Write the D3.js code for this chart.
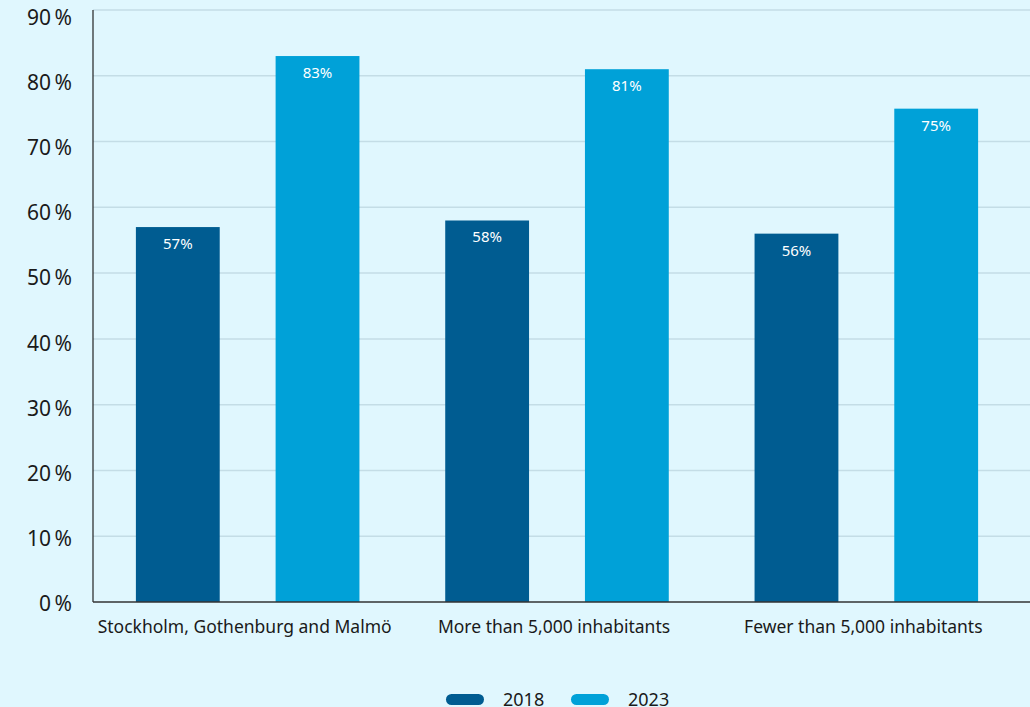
<!DOCTYPE html>
<html>
<head>
<meta charset="utf-8">
<script src="https://cdn.jsdelivr.net/npm/d3@7"></script>
<style>
  html, body { margin: 0; padding: 0; background: #e0f7fe; }
  svg { display: block; font-family: "Noto Sans", "DejaVu Sans", sans-serif; }
</style>
</head>
<body>
<div id="chart"></div>
<script>
const categories = ['Stockholm, Gothenburg and Malmö', 'More than 5,000 inhabitants', 'Fewer than 5,000 inhabitants'];
const seriesNames = ['2018', '2023'];
const values2018 = [57, 58, 56];
const values2023 = [83, 81, 75];
const yTicks = [0, 10, 20, 30, 40, 50, 60, 70, 80, 90];
const colors = ['#005c91', '#00a1d8'];

const width = 1030;
const height = 707;
const margin = {top: 10, right: 0, bottom: 105, left: 93};
const plotRight = 1021;

const svg = d3.select('#chart').append('svg')
    .attr('width', width)
    .attr('height', height);

svg.append('rect')
    .attr('width', width)
    .attr('height', height)
    .attr('fill', '#e0f7fe');

const x0 = d3.scaleBand()
    .domain(categories)
    .range([margin.left, plotRight]);

const x1 = d3.scaleBand()
    .domain(seriesNames)
    .range([0, x0.bandwidth()])
    .paddingInner(0.4)
    .paddingOuter(0.307);

const y = d3.scaleLinear()
    .domain([0, 90])
    .range([height - margin.bottom, margin.top]);

// tick labels sit a little below their gridlines towards the top
const yLabel = d3.scaleLinear()
    .domain([0, 90])
    .range([603.5, 18]);

// Gridlines
svg.append('g')
    .selectAll('line')
    .data(yTicks.filter(d => d > 0))
    .join('line')
    .attr('x1', margin.left)
    .attr('x2', width - margin.right)
    .attr('y1', d => y(d))
    .attr('y2', d => y(d))
    .attr('stroke', '#c4dde6')
    .attr('stroke-width', 1.5);

// Y axis labels
const yAxis = svg.append('g')
    .attr('transform', `translate(${margin.left},0)`)
    .call(d3.axisLeft(yLabel).tickValues(yTicks).tickSize(0).tickPadding(21).tickFormat(d => d + '\u2009%'));
yAxis.select('.domain').remove();
yAxis.selectAll('text')
    .attr('font-size', 21)
    .attr('font-family', '"Noto Sans", sans-serif')
    .attr('fill', '#1a1a1a');

// Bars
const data = categories.map((c, i) => ({cat: c, vals: [
    {key: '2018', v: values2018[i]},
    {key: '2023', v: values2023[i]}
]}));

const groups = svg.append('g')
    .selectAll('g')
    .data(data)
    .join('g')
    .attr('transform', d => `translate(${x0(d.cat)},0)`);

groups.selectAll('rect')
    .data(d => d.vals)
    .join('rect')
    .attr('x', d => x1(d.key))
    .attr('width', x1.bandwidth())
    .attr('y', d => y(d.v))
    .attr('height', d => y(0) - y(d.v))
    .attr('fill', (d, i) => colors[i]);

groups.selectAll('text')
    .data(d => d.vals)
    .join('text')
    .attr('x', d => x1(d.key) + x1.bandwidth() / 2)
    .attr('y', d => y(d.v) + 22)
    .attr('text-anchor', 'middle')
    .attr('font-size', 15)
    .attr('fill', '#ffffff')
    .text(d => d.v + '%');

// Axis lines
svg.append('line')
    .attr('x1', margin.left)
    .attr('x2', margin.left)
    .attr('y1', margin.top)
    .attr('y2', y(0))
    .attr('stroke', '#222')
    .attr('stroke-width', 1.2);

svg.append('line')
    .attr('x1', margin.left)
    .attr('x2', width - margin.right)
    .attr('y1', y(0))
    .attr('y2', y(0))
    .attr('stroke', '#333')
    .attr('stroke-width', 1.5);

// Category labels
svg.append('g')
    .selectAll('text')
    .data(categories)
    .join('text')
    .attr('x', d => x0(d) + x0.bandwidth() / 2 - 3)
    .attr('y', 633)
    .attr('text-anchor', 'middle')
    .attr('font-size', 17.5)
    .attr('fill', '#1a1a1a')
    .text(d => d);

// Legend (sits at the very bottom edge, as in the original)
const legend = svg.append('g');
const legendX = [446, 571];
seriesNames.forEach((name, i) => {
    legend.append('rect')
        .attr('x', legendX[i])
        .attr('y', 694)
        .attr('width', 38)
        .attr('height', 11)
        .attr('rx', 5.5)
        .attr('fill', colors[i]);
    legend.append('text')
        .attr('x', legendX[i] + 57)
        .attr('y', 706)
        .attr('font-size', 18)
        .attr('fill', '#1a1a1a')
        .text(name);
});
</script>
</body>
</html>
